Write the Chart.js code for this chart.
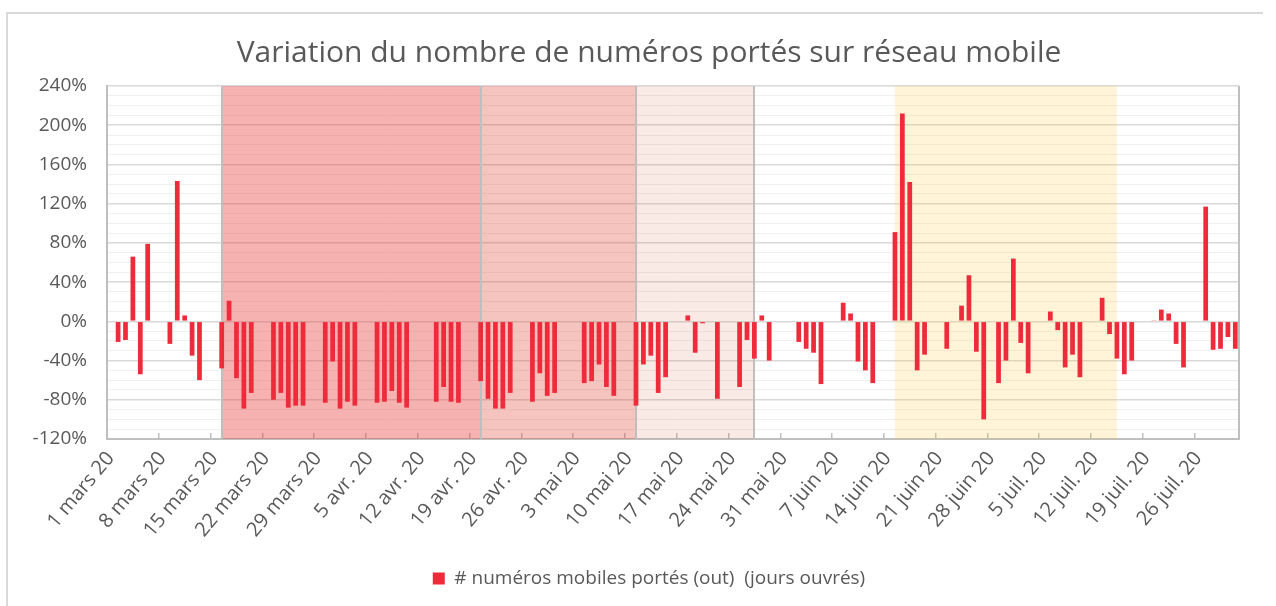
<!DOCTYPE html>
<html lang="fr">
<head>
<meta charset="utf-8">
<title>Variation du nombre de numéros portés sur réseau mobile</title>
<script src="https://cdn.jsdelivr.net/npm/chart.js@4.4.1/dist/chart.umd.min.js"></script>
<style>
  html, body { margin: 0; padding: 0; background: #fff; }
  body { width: 1276px; height: 606px; overflow: hidden; position: relative; }
  #frame { position: absolute; left: 6px; top: 12px; width: 1257px; height: 640px; border: 2px solid #d9d9d9; border-right: none; box-sizing: border-box; }
  #wrap { position: absolute; left: 0; top: 0; width: 1276px; height: 606px; }
</style>
</head>
<body>
<div id="frame"></div>
<div id="wrap"><canvas id="portabilityChart" width="1276" height="606"></canvas></div>
<script>
// Couleurs
const colors = {
    bar: '#EE2B3B',
    text: '#595959',
    axis: '#bfbfbf',
    gridMajor: '#d9d9d9',
    gridMinor: '#f0f0f0'
};
const fontFamily = "'Open Sans', sans-serif";

// Axe des dates : 1 mars -> 31 juil. 2020
const monthNames = ['mars', 'avr.', 'mai', 'juin', 'juil.'];
const monthDays = [31, 30, 31, 30, 31];

// Variation (%) par jour, une ligne par semaine (dim -> sam), null = pas de barre
const variation = [
    null, -21, -19, 66, -54, 79, null,
    null, -23, 143, 6, -35, -60, null,
    null, -48, 21, -58, -89, -73, null,
    null, -80, -73, -88, -86, -86, null,
    null, -83, -41, -89, -82, -86, null,
    null, -83, -82, -71, -83, -88, null,
    null, null, -82, -67, -82, -83, null,
    null, -61, -79, -89, -89, -73, null,
    null, -82, -53, -76, -73, null, null,
    null, -63, -61, -44, -67, -76, null,
    null, -86, -44, -35, -73, -57, null,
    null, 6, -32, -2, null, -79, null,
    null, -67, -19, -38, 6, -40, null,
    null, null, -21, -28, -32, -64, null,
    null, 19, 8, -41, -50, -63, null,
    null, 91, 212, 142, -50, -34, null,
    null, -28, null, 16, 47, -31, -100,
    null, -63, -40, 64, -22, -53, null,
    null, 10, -9, -47, -34, -57, null,
    null, 24, -13, -38, -54, -40, null,
    null, 1, 12, 8, -23, -47, null,
    null, 117, -29, -28, -16, -28
];

// Périodes surlignées (index de jour dans l'axe)
const bandStart = [15, 50, 71, 106];
const bandEnd = [50, 71, 87, 136];
const bandColors = [
    'rgba(232, 60, 60, 0.40)',
    'rgba(225, 60, 40, 0.30)',
    'rgba(215, 80, 40, 0.12)',
    'rgba(255, 200, 60, 0.20)'
];
const bandEdges = [15, 50, 71, 87];

// Pas des étiquettes de l'axe X (une par semaine)
const tickEvery = 7;
// Graduations de l'axe Y
const yMin = -120;
const yMax = 240;
const yMajor = 40;
const yMinor = 10;

function buildDays() {
    const days = [];
    monthNames.forEach(function (name, m) {
        for (let d = 1; d <= monthDays[m]; d++) {
            days.push(d + ' ' + name + ' 20');
        }
    });
    return days;
}

/**
 * Fonds de couleur des périodes + bordures
 */
const periodBands = {
    id: 'periodBands',
    beforeDatasetsDraw(chart) {
        const { ctx, chartArea, scales: { x } } = chart;
        const h = chartArea.bottom - chartArea.top;
        ctx.save();
        bandStart.forEach(function (s, i) {
            const x0 = x.getPixelForValue(s);
            const x1 = x.getPixelForValue(bandEnd[i]);
            ctx.fillStyle = bandColors[i];
            ctx.fillRect(x0, chartArea.top, x1 - x0, h);
        });
        ctx.strokeStyle = colors.axis;
        ctx.lineWidth = 2;
        bandEdges.forEach(function (d) {
            const px = Math.round(x.getPixelForValue(d));
            ctx.beginPath();
            ctx.moveTo(px, chartArea.top);
            ctx.lineTo(px, chartArea.bottom);
            ctx.stroke();
        });
        // bord droit de la zone de traçage
        ctx.beginPath();
        ctx.moveTo(chartArea.right, chartArea.top);
        ctx.lineTo(chartArea.right, chartArea.bottom + 1);
        ctx.stroke();
        ctx.restore();
    }
};

function initChart() {
    const el = document.getElementById('portabilityChart');
    const days = buildDays();

    new Chart(el, {
        type: 'bar',
        data: {
            labels: days,
            datasets: [{
                label: '# numéros mobiles portés (out)  (jours ouvrés)',
                data: variation,
                backgroundColor: colors.bar,
                borderWidth: 0,
                barPercentage: 0.64,
                categoryPercentage: 1
            }]
        },
        options: {
            responsive: false,
            animation: false,
            layout: {
                padding: { left: 22, right: 0, top: 0, bottom: 8 }
            },
            plugins: {
                title: {
                    display: true,
                    text: 'Variation du nombre de numéros portés sur réseau mobile',
                    color: colors.text,
                    font: { family: fontFamily, size: 30, weight: 'normal' },
                    padding: { top: 35, bottom: 15 }
                },
                legend: {
                    position: 'bottom',
                    labels: {
                        color: colors.text,
                        boxWidth: 12,
                        boxHeight: 12,
                        padding: 10,
                        font: { family: fontFamily, size: 19 }
                    }
                },
                tooltip: { enabled: false }
            },
            scales: {
                x: {
                    offset: true,
                    grid: {
                        offset: true,
                        drawOnChartArea: false,
                        drawTicks: true,
                        tickLength: -6,
                        lineWidth: 1.5,
                        color: function (c) {
                            return c.index % tickEvery === 0 ? colors.axis : 'rgba(0,0,0,0)';
                        }
                    },
                    border: { color: colors.axis, width: 2 },
                    ticks: {
                        autoSkip: false,
                        minRotation: 50,
                        maxRotation: 50,
                        padding: 14,
                        color: colors.text,
                        font: { family: fontFamily, size: 20 },
                        callback: function (value, index) {
                            return index % tickEvery === 0 ? days[index] : '';
                        }
                    },
                    afterFit: function (scale) { scale.height = 120; }
                },
                y: {
                    min: yMin,
                    max: yMax,
                    grid: {
                        drawTicks: false,
                        color: function (c) {
                            return c.tick && c.tick.value % yMajor === 0 ? colors.gridMajor : colors.gridMinor;
                        },
                        lineWidth: function (c) {
                            return c.tick && c.tick.value % yMajor === 0 ? 1.5 : 1;
                        }
                    },
                    border: { color: colors.axis, width: 2 },
                    ticks: {
                        stepSize: yMinor,
                        autoSkip: false,
                        padding: 20,
                        color: colors.text,
                        font: { family: fontFamily, size: 19 },
                        callback: function (value) {
                            return value % yMajor === 0 ? value + '%' : '';
                        }
                    },
                    afterFit: function (scale) { scale.width = 85; }
                },
                // axe vide à droite, pour garder la marge
                yRight: {
                    position: 'right',
                    grid: { drawOnChartArea: false, drawTicks: false },
                    border: { display: false },
                    ticks: { display: false },
                    afterFit: function (scale) { scale.width = 37; }
                }
            }
        },
        plugins: [periodBands]
    });
}

document.addEventListener('DOMContentLoaded', initChart);
</script>
</body>
</html>
